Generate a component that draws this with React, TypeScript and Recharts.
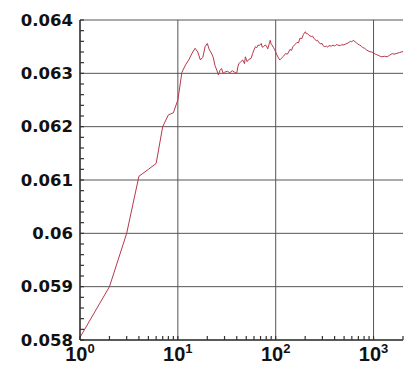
import React from 'react';
import { LineChart, Line, XAxis, YAxis, ReferenceLine } from 'recharts';

// iteration count (log axis) and running estimate
const steps = [
  1, 2, 3, 4, 5, 6, 7, 8, 9, 10,
  11, 12, 13, 14, 15, 16, 17, 18, 19, 20,
  21, 22, 23, 24, 25, 26, 27, 28, 29, 30,
  32, 34, 36, 38, 40, 41, 42, 44, 46, 48,
  49, 51, 53, 56, 58, 60, 62, 64, 66, 68,
  71, 73, 75, 78, 80, 83, 86, 88, 90, 92,
  95, 98, 102, 106, 110, 114, 120, 126, 132, 140,
  145, 150, 157, 165, 171, 177, 185, 192, 201, 206,
  210, 220, 231, 238, 245, 260, 268, 275, 290, 298,
  305, 317, 330, 340, 350, 370, 385, 400, 415, 430,
  460, 475, 488, 520, 550, 580, 600, 619, 650, 690,
  722, 750, 780, 810, 846, 900, 950, 990, 1040, 1080,
  1140, 1200, 1300, 1380, 1460, 1550, 1620, 1700, 1850, 2000,
];

const estimates = [
  0.05805, 0.059, 0.06, 0.06107, 0.0612, 0.06131, 0.062, 0.06222, 0.06226, 0.0625,
  0.06302, 0.06316, 0.06326, 0.06338, 0.06347, 0.0634, 0.06325, 0.0633, 0.0635, 0.06356,
  0.06344, 0.06338, 0.0633, 0.06314, 0.06306, 0.06297, 0.06306, 0.06309, 0.063, 0.06302,
  0.06304, 0.06301, 0.06305, 0.06302, 0.063, 0.06312, 0.06318, 0.06322, 0.06325, 0.06318,
  0.06331, 0.06322, 0.06326, 0.06328, 0.06337, 0.06344, 0.0635, 0.06348, 0.06353, 0.06352,
  0.06356, 0.06349, 0.0635, 0.06353, 0.06352, 0.06346, 0.06356, 0.06362, 0.06354, 0.06353,
  0.06348, 0.06344, 0.06336, 0.0633, 0.06325, 0.06328, 0.06332, 0.06337, 0.06336, 0.06345,
  0.06343, 0.0635, 0.06354, 0.06358, 0.06357, 0.06366, 0.06365, 0.06373, 0.06378, 0.06374,
  0.06375, 0.06371, 0.06369, 0.0637, 0.06366, 0.06361, 0.06362, 0.06358, 0.06355, 0.06356,
  0.06352, 0.0635, 0.06351, 0.06349, 0.06352, 0.06351, 0.06353, 0.06351, 0.06354, 0.06353,
  0.06352, 0.06354, 0.06353, 0.06355, 0.06357, 0.0636, 0.06359, 0.06362, 0.06359, 0.06355,
  0.06353, 0.06351, 0.06348, 0.06347, 0.06344, 0.06341, 0.0634, 0.06339, 0.06336, 0.06335,
  0.06333, 0.06331, 0.06332, 0.06331, 0.06334, 0.06337, 0.06336, 0.06337, 0.06339, 0.06341,
];

const xTicks = [
  1, 2, 3, 4, 5, 6, 7, 8, 9,
  10, 20, 30, 40, 50, 60, 70, 80, 90,
  100, 200, 300, 400, 500, 600, 700, 800, 900,
  1000, 2000,
];
const xMajor = [1, 10, 100, 1000];

const yTicks = [
  0.058, 0.0582, 0.0584, 0.0586, 0.0588,
  0.059, 0.0592, 0.0594, 0.0596, 0.0598,
  0.06, 0.0602, 0.0604, 0.0606, 0.0608,
  0.061, 0.0612, 0.0614, 0.0616, 0.0618,
  0.062, 0.0622, 0.0624, 0.0626, 0.0628,
  0.063, 0.0632, 0.0634, 0.0636, 0.0638,
  0.064,
];
const yMajor = [0.058, 0.059, 0.06, 0.061, 0.062, 0.063, 0.064];

const data = steps.map((n, i) => ({ n, v: estimates[i] }));

const isYMajor = (v: number) => yMajor.some((m) => Math.abs(m - v) < 1e-9);

// minor ticks point inward, labels only on the decades / 0.001 steps
function YTick({ x, y, payload }: any) {
  const major = isYMajor(payload.value);
  return (
    <g>
      <line x1={x + 7} x2={x + 11} y1={y} y2={y} stroke="#333" strokeWidth={1.2} />
      {major && (
        <text
          x={x}
          y={y}
          textAnchor="end"
          dominantBaseline="central"
          fontFamily="DejaVu Sans"
          fontWeight="bold"
          fontSize={16.5}
          fill="#111"
        >
          {String(payload.value)}
        </text>
      )}
    </g>
  );
}

function XTick({ x, y, payload }: any) {
  const idx = xMajor.indexOf(payload.value);
  return (
    <g>
      <line x1={x} x2={x} y1={y - 7} y2={y - 11} stroke="#333" strokeWidth={1.2} />
      {idx >= 0 && (
        <text
          x={x}
          y={y}
          dy={14}
          textAnchor="middle"
          fontFamily="Liberation Sans"
          fontWeight="bold"
          fontSize={20}
          fill="#111"
        >
          10
          <tspan dy={-8} fontSize={13}>
            {idx}
          </tspan>
        </text>
      )}
    </g>
  );
}

export default function App() {
  return (
    <div style={{ position: 'absolute', left: 0, top: 0, background: '#fff' }}>
      <LineChart width={405} height={365} data={data} margin={{ top: 20, right: 2, bottom: 0, left: 0 }}>
        {yMajor.slice(1).map((v) => (
          <ReferenceLine key={'h' + v} y={v} stroke="#555" strokeWidth={1} />
        ))}
        {xMajor.slice(1).map((v) => (
          <ReferenceLine key={'v' + v} x={v} stroke="#555" strokeWidth={1} />
        ))}
        <XAxis
          dataKey="n"
          type="number"
          scale="log"
          domain={[1, 2000]}
          allowDataOverflow
          ticks={xTicks}
          interval={0}
          tickSize={0}
          tickMargin={7}
          height={25}
          axisLine={{ stroke: '#222', strokeWidth: 1.5 }}
          tick={<XTick />}
        />
        <YAxis
          type="number"
          domain={[0.058, 0.064]}
          allowDataOverflow
          ticks={yTicks}
          interval={0}
          tickSize={0}
          tickMargin={7}
          width={80}
          axisLine={{ stroke: '#222', strokeWidth: 1.5 }}
          tick={<YTick />}
        />
        <Line
          dataKey="v"
          type="linear"
          stroke="#b8384a"
          strokeWidth={1}
          dot={false}
          isAnimationActive={false}
        />
      </LineChart>
    </div>
  );
}
